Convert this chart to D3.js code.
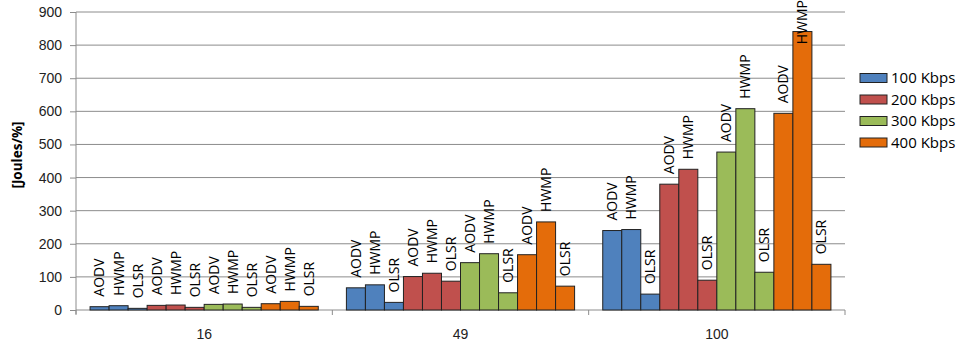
<!DOCTYPE html>
<html>
<head>
<meta charset="utf-8">
<style>
    body { margin: 0; background: #fff; }
    svg { display: block; font-family: 'Open Sans', 'Liberation Sans', sans-serif; }
    .y .tick text { font-size: 14px; fill: #222; }
    .x .tick text { font-size: 14px; fill: #222; }
    .bar-label { font-size: 14px; fill: #000; }
    .legend text { font-size: 15px; fill: #000; }
    .axis-title { font-size: 13.5px; font-weight: bold; }
</style>
</head>
<body>
<svg width="967" height="348"></svg>
<script src="https://d3js.org/d3.v7.min.js"></script>
<script>
    // network sizes on the x axis
    let sizes = ["16", "49", "100"];
    // data rates (series)
    let rates = ["100 Kbps", "200 Kbps", "300 Kbps", "400 Kbps"];
    let protocols = ["AODV", "HWMP", "OLSR"];
    let rateColors = ["#4F81BD", "#C0504D", "#9BBB59", "#E46C0A"];
    let yTicks = [0, 100, 200, 300, 400, 500, 600, 700, 800, 900];

    // values per rate, [AODV, HWMP, OLSR] for each size
    let kbps100 = [[10, 13, 5], [67, 76, 23], [240, 243, 48]];
    let kbps200 = [[14, 15, 8], [101, 111, 87], [380, 425, 90]];
    let kbps300 = [[17, 18, 8], [143, 170, 52], [477, 608, 114]];
    let kbps400 = [[19, 26, 11], [167, 266, 72], [594, 841, 138]];

    let seriesValues = [kbps100, kbps200, kbps300, kbps400];

    let rows = [];
    sizes.forEach((s, si) => {
        rates.forEach((r, ri) => {
            protocols.forEach((p, pi) => {
                rows.push({ size: s, rate: r, protocol: p, key: r + "|" + p, value: seriesValues[ri][si][pi] });
            });
        });
    });

    let margin = { top: 12, left: 76, right: 122, bottom: 38 };
    let width = 967, height = 348;
    let svg = d3.select("svg");

    let x0 = d3.scaleBand().domain(sizes).range([margin.left, width - margin.right]);
    let innerKeys = [];
    rates.forEach(r => protocols.forEach(p => innerKeys.push(r + "|" + p)));
    let x1 = d3.scaleBand().domain(innerKeys).range([0, x0.bandwidth()]).paddingOuter(0.74);
    let y = d3.scaleLinear().domain([0, 900]).range([height - margin.bottom, margin.top]);
    let color = d3.scaleOrdinal().domain(rates).range(rateColors);

    // gridlines
    svg.append("g")
        .selectAll("line")
        .data(yTicks.slice(1))
        .join("line")
        .attr("x1", margin.left)
        .attr("x2", width - margin.right)
        .attr("y1", d => y(d))
        .attr("y2", d => y(d))
        .attr("stroke", "#8c8c8c")
        .attr("stroke-width", 1);

    // y axis
    svg.append("g")
        .attr("class", "y axis")
        .attr("transform", `translate(${margin.left},0)`)
        .call(d3.axisLeft(y).tickValues(yTicks).tickSize(6).tickPadding(8))
        .call(g => g.selectAll(".domain").attr("stroke", "#8c8c8c").attr("d", `M0,${y(900)}V${y(0) + 4}`))
        .call(g => g.selectAll(".tick line").attr("stroke", "#8c8c8c"));

    // x axis
    let xAxis = svg.append("g")
        .attr("class", "x axis")
        .attr("transform", `translate(0,${y(0)})`)
        .call(d3.axisBottom(x0).tickSize(0).tickPadding(19))
        .call(g => g.select(".domain").attr("stroke", "#8c8c8c").attr("d", `M${margin.left},0H${width - margin.right}`));
    let bounds = sizes.map(s => x0(s)).concat([x0(sizes[sizes.length - 1]) + x0.bandwidth()]);
    xAxis.append("g")
        .selectAll("line")
        .data(bounds)
        .join("line")
        .attr("x1", d => d).attr("x2", d => d)
        .attr("y1", 0).attr("y2", 5)
        .attr("stroke", "#8c8c8c");

    // bars
    let groups = svg.append("g")
        .selectAll("g")
        .data(sizes)
        .join("g")
        .attr("transform", d => `translate(${x0(d)},0)`);

    groups.selectAll("rect")
        .data(s => rows.filter(r => r.size == s))
        .join("rect")
        .attr("x", d => x1(d.key))
        .attr("width", x1.bandwidth())
        .attr("y", d => y(d.value))
        .attr("height", d => y(0) - y(d.value))
        .attr("fill", d => color(d.rate))
        .attr("stroke", "#222")
        .attr("stroke-width", 1);

    // bar labels, rotated, above each bar (kept inside the svg at the top)
    groups.selectAll("text")
        .data(s => rows.filter(r => r.size == s))
        .join("text")
        .attr("class", "bar-label")
        .text(d => d.protocol)
        .each(function (d) {
            let len = this.getComputedTextLength();
            let base = Math.max(y(d.value) - 10, len);
            let cx = x1(d.key) + x1.bandwidth() / 2;
            d3.select(this)
                .attr("transform", `translate(${cx},${base}) rotate(-90)`)
                .attr("dy", "0.35em");
        });

    // y axis title
    svg.append("text")
        .attr("class", "axis-title")
        .attr("transform", `translate(17,${(y(0) + y(900)) / 2 - 6}) rotate(-90)`)
        .attr("text-anchor", "middle")
        .attr("dy", "0.35em")
        .text("[Joules/%]");

    // legend
    let legend = svg.append("g")
        .attr("class", "legend")
        .attr("transform", "translate(860,78)")
        .selectAll("g")
        .data(rates)
        .join("g")
        .attr("transform", (d, i) => `translate(0,${i * 21.5})`);

    legend.append("rect")
        .attr("x", 0).attr("y", -4.5)
        .attr("width", 27).attr("height", 9)
        .attr("fill", d => color(d))
        .attr("stroke", "#222");

    legend.append("text")
        .attr("x", 31)
        .attr("dy", "0.35em")
        .text(d => d);
</script>
</body>
</html>
